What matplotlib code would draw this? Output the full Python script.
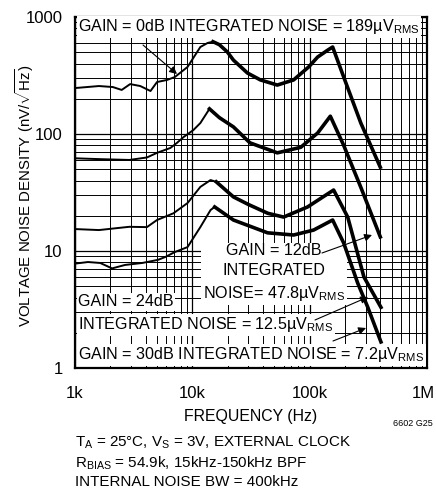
import matplotlib
matplotlib.use("Agg")
import matplotlib.pyplot as plt
import numpy as np
from matplotlib.ticker import FixedLocator, LogLocator, NullFormatter
from matplotlib.transforms import ScaledTranslation

# === data (freq in kHz, density in nV/rtHz) ===
f_0db = [1.0, 1.6, 2.1, 2.5, 2.95, 3.6, 4.4, 5.0, 6.1, 7.1, 9.1, 11.7, 13.5, 15.0, 17.0,
         19.9, 22.4, 29.5, 38, 53, 73, 98, 117, 143, 157, 195, 273, 400]
v_0db = [247, 257, 252, 238, 267, 257, 233, 278, 290, 307, 374, 554, 600, 615, 580,
         502, 428, 332, 290, 262, 290, 374, 455, 522, 554, 307, 124, 52]

f_12db = [1.0, 1.6, 2.9, 4.1, 5.0, 6.5, 7.4, 8.4, 10.2, 11.7, 14.0, 17, 22.4, 31,
          53, 84, 117, 150, 195, 273, 400]
v_12db = [62, 61, 60, 63, 69, 76, 84, 94, 108, 124, 164, 138, 115, 84,
          69, 77, 102, 142, 80, 35, 13.2]

f_24db = [1.0, 1.6, 2.9, 4.1, 5.0, 6.9, 9.1, 11.7, 14.3, 16, 22.4, 30, 44, 60,
          96, 130, 160, 211, 290, 405]
v_24db = [15.4, 15.1, 16.1, 16, 18.4, 21, 25.7, 35.3, 40.4, 39, 29, 25, 21, 19.5,
          23.8, 29, 33.2, 19.5, 6.0, 3.3]

f_30db = [1.0, 1.29, 1.64, 2.07, 2.67, 3.74, 5.1, 5.9, 7.1, 9.1, 11.7, 14.3, 15.5,
          22.4, 43.8, 73, 108, 157, 195, 257, 313, 405]
v_30db = [7.8, 8.05, 7.9, 7.1, 7.6, 7.9, 8.4, 8.9, 9.8, 10.8, 16, 22.4, 23.8,
          18.4, 14.3, 13.7, 15.1, 18.4, 11.7, 5.3, 3.3, 1.67]

curves = [(f_0db, v_0db), (f_12db, v_12db), (f_24db, v_24db), (f_30db, v_30db)]

x_ticks = [1e3, 1e4, 1e5, 1e6]
x_labels = ["1k", "10k", "100k", "1M"]
y_ticks = [1, 10, 100, 1000]
y_labels = ["1", "10", "100", "1000"]

# === fonts ===
FONT = "Liberation Sans"
plt.rcParams["font.family"] = [FONT, "DejaVu Sans"]
plt.rcParams["mathtext.fontset"] = "custom"
plt.rcParams["mathtext.rm"] = FONT
plt.rcParams["mathtext.it"] = FONT
plt.rcParams["mathtext.default"] = "regular"
FS = 11.6

W, H = 436, 496


def fp(x, y):
    # pixel position (from top left) -> figure fraction
    return x / W, 1 - y / H


fig = plt.figure(figsize=(W / 100, H / 100), dpi=100)
ax = fig.add_axes([75 / W, 1 - 368 / H, (427 - 75) / W, (368 - 17) / H])
ax.set_xscale("log")
ax.set_yscale("log")
ax.set_xlim(1e3, 1e6)
ax.set_ylim(1, 1000)

for f, v in curves:
    f = np.array(f) * 1e3
    v = np.array(v)
    ax.plot(f, v, color="black", lw=1.4, zorder=4, solid_joinstyle="round")
    i0 = max(np.argmax(f >= 17e3) - 1, 0)
    ax.plot(f[i0:], v[i0:], color="black", lw=2.6, zorder=4, solid_joinstyle="round")

ax.xaxis.set_major_locator(FixedLocator(x_ticks))
ax.set_xticklabels(x_labels)
ax.yaxis.set_major_locator(FixedLocator(y_ticks))
ax.set_yticklabels(y_labels)
ax.xaxis.set_minor_locator(LogLocator(base=10, subs=np.arange(2, 10)))
ax.yaxis.set_minor_locator(LogLocator(base=10, subs=np.arange(2, 10)))
ax.xaxis.set_minor_formatter(NullFormatter())
ax.yaxis.set_minor_formatter(NullFormatter())
ax.tick_params(which="both", length=0, labelsize=12)
ax.tick_params(axis="x", pad=13)
ax.tick_params(axis="y", pad=9)
# nudge "1M" left so it stays inside the figure
last = ax.get_xticklabels()[-1]
last.set_transform(last.get_transform() + ScaledTranslation(-4 / 100, 0, fig.dpi_scale_trans))
ax.grid(which="major", color="black", lw=0.9)
ax.grid(which="minor", color="black", lw=0.7)
for s in ax.spines.values():
    s.set_linewidth(1.6)

ax.set_xlabel("FREQUENCY (Hz)", fontsize=11.4, labelpad=6)
fig.text(*fp(25, 195), r"VOLTAGE NOISE DENSITY (nV/$\sqrt{Hz}$)", fontsize=10.8,
         rotation=90, ha="center", va="center")

box = dict(facecolor="white", edgecolor="none", pad=1.0)
txt = dict(fontsize=FS, transform=fig.transFigure, zorder=3, bbox=box, va="center")

ax.text(*fp(78, 27), r"GAIN = 0dB INTEGRATED NOISE = 189µV$_{RMS}$", ha="left", **txt)
ax.text(*fp(274, 273), "GAIN = 12dB\nINTEGRATED\n" + r"NOISE= 47.8µV$_{RMS}$",
        ha="center", multialignment="center", linespacing=1.45, **txt)
ax.text(*fp(78, 302), "GAIN = 24dB", ha="left", **txt)
ax.text(*fp(78, 325), r"INTEGRATED NOISE = 12.5µV$_{RMS}$", ha="left", **txt)
ax.text(*fp(78, 355), r"GAIN = 30dB INTEGRATED NOISE = 7.2µV$_{RMS}$", ha="left", **txt)

arrow = dict(arrowstyle="-|>", color="black", lw=0.8, mutation_scale=11, shrinkA=0, shrinkB=0)
for (x0, y0), (x1, y1) in [((143, 45), (177, 74)), ((322, 253), (372, 235)),
                           ((315, 320), (368, 297)), ((333, 341), (366, 328))]:
    ax.annotate("", xy=fp(x1, y1), xytext=fp(x0, y0), xycoords="figure fraction",
                textcoords="figure fraction", arrowprops=arrow, zorder=5)

fig.text(*fp(413, 424), "6602 G25", fontsize=6.5, ha="center", va="center")
foot = dict(fontsize=10.9, va="center")
fig.text(*fp(75, 443), r"T$_A$ = 25°C, V$_S$ = 3V, EXTERNAL CLOCK", **foot)
fig.text(*fp(75, 463), r"R$_{BIAS}$ = 54.9k, 15kHz-150kHz BPF", **foot)
fig.text(*fp(75, 482), "INTERNAL NOISE BW = 400kHz", **foot)

fig.savefig("out.png", dpi=100)
